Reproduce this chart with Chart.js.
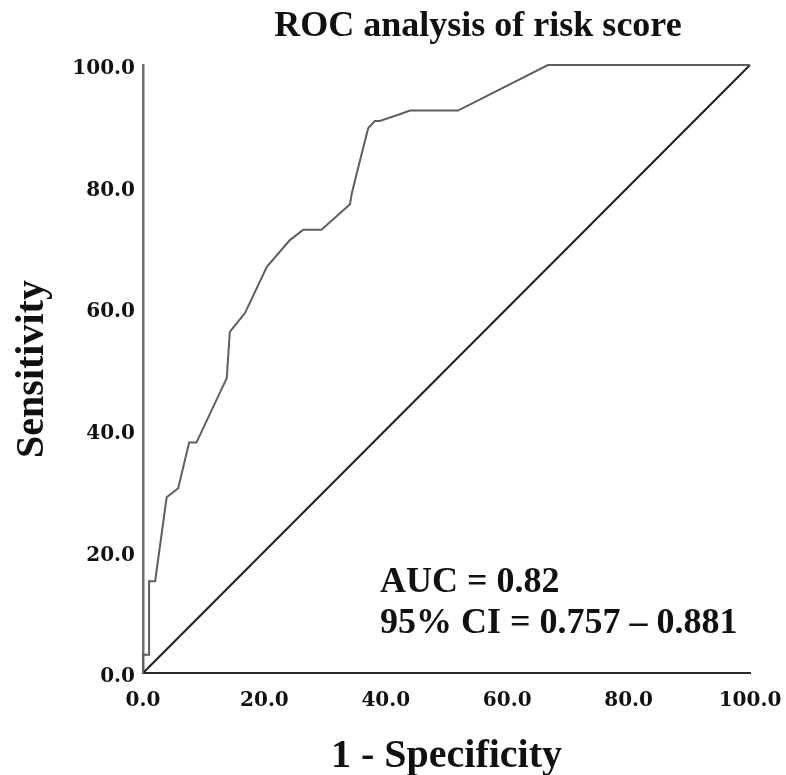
<!DOCTYPE html>
<html>
<head>
<meta charset="utf-8">
<script src="https://cdn.jsdelivr.net/npm/chart.js@4"></script>
<style>
  html, body { margin: 0; padding: 0; background: #fff; }
  #roc { display: block; }
</style>
</head>
<body>
<canvas id="roc" width="786" height="775"></canvas>
<script>
// 1 - specificity (%) and sensitivity (%) of the ROC curve
const falsePositive = [0, 0, 1.0, 1.0, 2.0, 3.9, 5.8, 7.6, 8.8, 13.8, 14.3, 16.8, 20.4, 24.2, 26.4, 29.4, 34.1, 34.4, 35.5, 37.1, 38.2, 39.0, 42.3, 44.0, 51.9, 66.7, 100];
const sensitivity = [0, 3.0, 3.0, 15.1, 15.1, 28.9, 30.4, 37.9, 37.9, 48.5, 56.1, 59.2, 66.8, 71.2, 72.9, 72.9, 77.1, 78.9, 83.3, 89.6, 90.8, 90.8, 91.9, 92.5, 92.5, 100, 100];
const refX = [0, 100];
const refY = [0, 100];
const tickValues = [0, 20, 40, 60, 80, 100];

const titleText = "ROC analysis of risk score";
const xTitle = "1 - Specificity";
const yTitle = "Sensitivity";
const aucLines = ["AUC = 0.82", "95% CI = 0.757 \u2013 0.881"];

const serif = "'Liberation Serif', 'Times New Roman', serif";

const textPlugin = {
  id: "rocText",
  afterDraw(chart) {
    const ctx = chart.ctx;
    const area = chart.chartArea;
    ctx.save();
    ctx.fillStyle = "#111";
    ctx.textBaseline = "alphabetic";

    ctx.font = "bold 36px " + serif;
    ctx.textAlign = "center";
    ctx.fillText(titleText, 478, 36);

    ctx.font = "bold 40px " + serif;
    ctx.fillText(xTitle, (area.left + area.right) / 2, 767);

    ctx.save();
    ctx.translate(43, (area.top + area.bottom) / 2);
    ctx.rotate(-Math.PI / 2);
    ctx.fillText(yTitle, 0, 0);
    ctx.restore();

    ctx.font = "bold 36px " + serif;
    ctx.textAlign = "left";
    ctx.fillText(aucLines[0], 380, 592);
    ctx.fillText(aucLines[1], 380, 633);
    ctx.restore();
  },
};

function setTicks(scale) {
  scale.ticks = tickValues.map((v) => ({ value: v }));
}

const ctx = document.getElementById("roc");
new Chart(ctx, {
  type: "scatter",
  data: {
    datasets: [
      {
        data: falsePositive.map((x, i) => ({ x: x, y: sensitivity[i] })),
        showLine: true,
        borderColor: "#5e5e5e",
        borderWidth: 2,
        pointRadius: 0,
        tension: 0,
        clip: 6,
      },
      {
        data: refX.map((x, i) => ({ x: x, y: refY[i] })),
        showLine: true,
        borderColor: "#1e1e1e",
        borderWidth: 2,
        pointRadius: 0,
        clip: 6,
      },
    ],
  },
  options: {
    responsive: false,
    animation: false,
    layout: {
      padding: { top: 65, right: 36, left: 0, bottom: 0 },
    },
    plugins: {
      legend: { display: false },
      tooltip: { enabled: false },
    },
    scales: {
      x: {
        type: "linear",
        min: 0,
        max: 100,
        afterBuildTicks: setTicks,
        afterFit: function (scale) {
          scale.height = 102;
          scale.paddingLeft = 0;
          scale.paddingRight = 0;
        },
        grid: { display: false, drawTicks: false },
        border: { display: true, color: "#2a2a2a", width: 2 },
        ticks: {
          color: "#111",
          padding: 16,
          maxRotation: 0,
          font: { family: "'DejaVu Serif', serif", weight: "bold", size: 20 },
          callback: function (value) {
            return value.toFixed(1);
          },
        },
      },
      y: {
        type: "linear",
        min: 0,
        max: 100,
        afterBuildTicks: setTicks,
        afterFit: function (scale) {
          scale.width = 143;
          scale.paddingTop = 0;
          scale.paddingBottom = 0;
        },
        grid: { display: false, drawTicks: false },
        border: { display: true, color: "#707070", width: 2.5 },
        ticks: {
          color: "#111",
          padding: 8,
          labelOffset: 4,
          font: { family: "'DejaVu Serif', serif", weight: "bold", size: 20 },
          callback: function (value) {
            return value.toFixed(1);
          },
        },
      },
    },
  },
  plugins: [textPlugin],
});
</script>
</body>
</html>
